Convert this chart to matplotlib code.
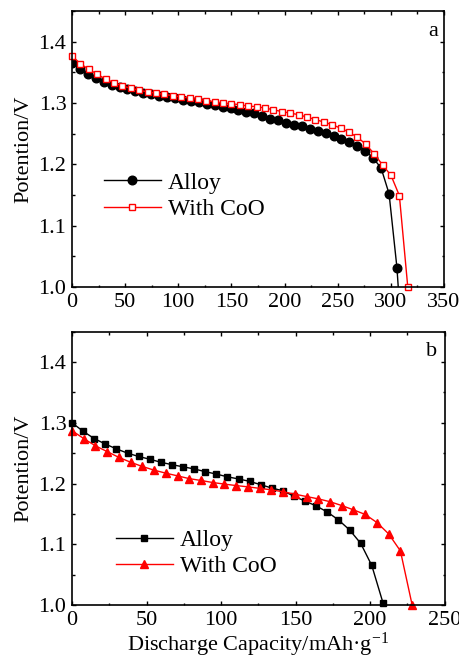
import matplotlib
matplotlib.use("Agg")
import matplotlib.pyplot as plt
from matplotlib.ticker import MultipleLocator

plt.rcParams['font.family'] = ['Liberation Serif', 'DejaVu Serif']
plt.rcParams['mathtext.fontset'] = 'custom'
plt.rcParams['mathtext.rm'] = 'Liberation Serif'
plt.rcParams['mathtext.it'] = 'Liberation Serif:italic'

# ---- panel a : discharge curves ----
a_alloy_cap = [0, 7.5, 14.9, 22.4, 29.8, 37.3, 44.8, 52.2, 59.7, 67.1,
               74.6, 82.1, 89.5, 97.0, 104.4, 111.9, 119.4, 126.8, 134.3, 141.7,
               149.2, 156.7, 164.1, 171.6, 179.0, 186.5, 194.0, 201.4, 208.9, 216.3,
               223.8, 231.3, 238.7, 246.2, 253.6, 261.1, 268.6, 276.0, 283.5, 290.9,
               298.4, 305.8, 308.0]
a_alloy_v = [1.366, 1.355, 1.347, 1.341, 1.335, 1.330, 1.326, 1.323, 1.320, 1.317,
             1.315, 1.312, 1.310, 1.3075, 1.305, 1.303, 1.301, 1.299, 1.2966, 1.294,
             1.2917, 1.289, 1.286, 1.2835, 1.278, 1.274, 1.2715, 1.268, 1.2645, 1.2617,
             1.258, 1.2547, 1.251, 1.247, 1.242, 1.2367, 1.230, 1.2225, 1.210, 1.194,
             1.152, 1.0316, 0.975]

a_coo_cap = [0, 7.9, 15.8, 23.7, 31.6, 39.5, 47.4, 55.3, 63.2, 71.1,
             79.0, 86.9, 94.8, 102.7, 110.6, 118.5, 126.4, 134.3, 142.2, 150.1,
             158.0, 165.9, 173.8, 181.7, 189.6, 197.5, 205.4, 213.3, 221.2, 229.1,
             237.0, 244.9, 252.8, 260.7, 268.6, 276.5, 284.4, 292.3, 300.2, 308.1,
             316.0]
a_coo_v = [1.377, 1.364, 1.355, 1.347, 1.339, 1.333, 1.328, 1.324, 1.321, 1.318,
           1.316, 1.314, 1.312, 1.310, 1.308, 1.306, 1.304, 1.302, 1.300, 1.299,
           1.297, 1.295, 1.294, 1.2917, 1.289, 1.286, 1.2835, 1.281, 1.277, 1.273,
           1.269, 1.2645, 1.259, 1.2525, 1.244, 1.233, 1.217, 1.199, 1.182, 1.149,
           1.000]

# ---- panel b : discharge curves ----
b_alloy_cap = [0, 7.45, 14.9, 22.35, 29.8, 37.25, 44.7, 52.15, 59.6, 67.05,
               74.5, 81.95, 89.4, 96.85, 104.3, 111.75, 119.2, 126.65, 134.1, 141.55,
               149.0, 156.45, 163.9, 171.35, 178.8, 186.25, 193.7, 201.15, 208.6]
b_alloy_v = [1.300, 1.286, 1.274, 1.265, 1.257, 1.250, 1.2445, 1.240, 1.235, 1.231,
             1.2275, 1.224, 1.2195, 1.2155, 1.211, 1.2075, 1.2035, 1.198, 1.1925, 1.188,
             1.179, 1.171, 1.163, 1.153, 1.140, 1.1236, 1.1015, 1.065, 1.004]

b_coo_cap = [0, 7.87, 15.74, 23.61, 31.48, 39.35, 47.22, 55.09, 62.96, 70.83,
             78.7, 86.57, 94.44, 102.31, 110.18, 118.05, 125.92, 133.79, 141.66, 149.53,
             157.4, 165.27, 173.14, 181.01, 188.88, 196.75, 204.62, 212.49, 220.36, 228.23]
b_coo_v = [1.287, 1.274, 1.262, 1.2525, 1.243, 1.235, 1.228, 1.222, 1.217, 1.2126,
           1.208, 1.205, 1.2016, 1.199, 1.1966, 1.1945, 1.192, 1.1896, 1.1863, 1.1825,
           1.1785, 1.1747, 1.170, 1.1637, 1.1566, 1.149, 1.1357, 1.117, 1.089, 1.000]

label_alloy = "Alloy"
label_coo = "With CoO"
ylabel = "Potention/V"
xlabel = "Discharge Capacity/mAh\u00b7g$^{\\mathrm{-1}}$"

FS = 16

fig = plt.figure(figsize=(4.6, 6.64), dpi=100)
ax1 = fig.add_axes([0.1565, 0.5678, 0.8085, 0.4156])
ax2 = fig.add_axes([0.1565, 0.0889, 0.8100, 0.4116])


def style_axes(ax, xmax):
    ax.set_xlim(0, xmax)
    ax.set_ylim(1.0, 1.45)
    ax.xaxis.set_major_locator(MultipleLocator(50))
    ax.xaxis.set_minor_locator(MultipleLocator(25))
    ax.yaxis.set_major_locator(MultipleLocator(0.1))
    ax.yaxis.set_minor_locator(MultipleLocator(0.05))
    ax.yaxis.set_major_formatter(plt.FormatStrFormatter('%.1f'))
    ax.tick_params(which='both', direction='in', top=True, right=True,
                   labelsize=FS, width=1.0)
    ax.tick_params(which='major', length=3.0, pad=4)
    ax.tick_params(which='minor', length=1.8)
    for s in ax.spines.values():
        s.set_linewidth(1.2)
        s.set_zorder(3)
    ax.set_ylabel(ylabel, fontsize=FS, labelpad=4)


# panel a
ax1.plot(a_alloy_cap, a_alloy_v, '-o', color='black', lw=1.0, ms=6.2,
         mfc='black', mec='black', label=label_alloy)
ax1.plot(a_coo_cap, a_coo_v, '-s', color='red', lw=1.0, ms=4.0, mew=1.0,
         mfc='white', mec='red', label=label_coo, clip_on=False)
style_axes(ax1, 350)
ax1.text(0.972, 0.927, 'a', transform=ax1.transAxes, fontsize=FS,
         ha='center', va='center')
ax1.legend(loc='center left', bbox_to_anchor=(0.086, 0.33), frameon=False,
           fontsize=FS + 1, handlelength=2.4, handletextpad=0.3,
           labelspacing=0.2, borderpad=0, borderaxespad=0)

# panel b
ax2.plot(b_alloy_cap, b_alloy_v, '-s', color='black', lw=1.0, ms=4.8,
         mfc='black', mec='black', label=label_alloy, clip_on=False)
ax2.plot(b_coo_cap, b_coo_v, '-^', color='red', lw=1.0, ms=6.0,
         mfc='red', mec='red', label=label_coo, clip_on=False)
style_axes(ax2, 250)
ax2.text(0.966, 0.929, 'b', transform=ax2.transAxes, fontsize=FS,
         ha='center', va='center')
ax2.legend(loc='center left', bbox_to_anchor=(0.118, 0.189), frameon=False,
           fontsize=FS + 1, handlelength=2.4, handletextpad=0.3,
           labelspacing=0.2, borderpad=0, borderaxespad=0)
ax2.set_xlabel(xlabel, fontsize=FS, labelpad=1)

fig.savefig('out.png', dpi=100)
